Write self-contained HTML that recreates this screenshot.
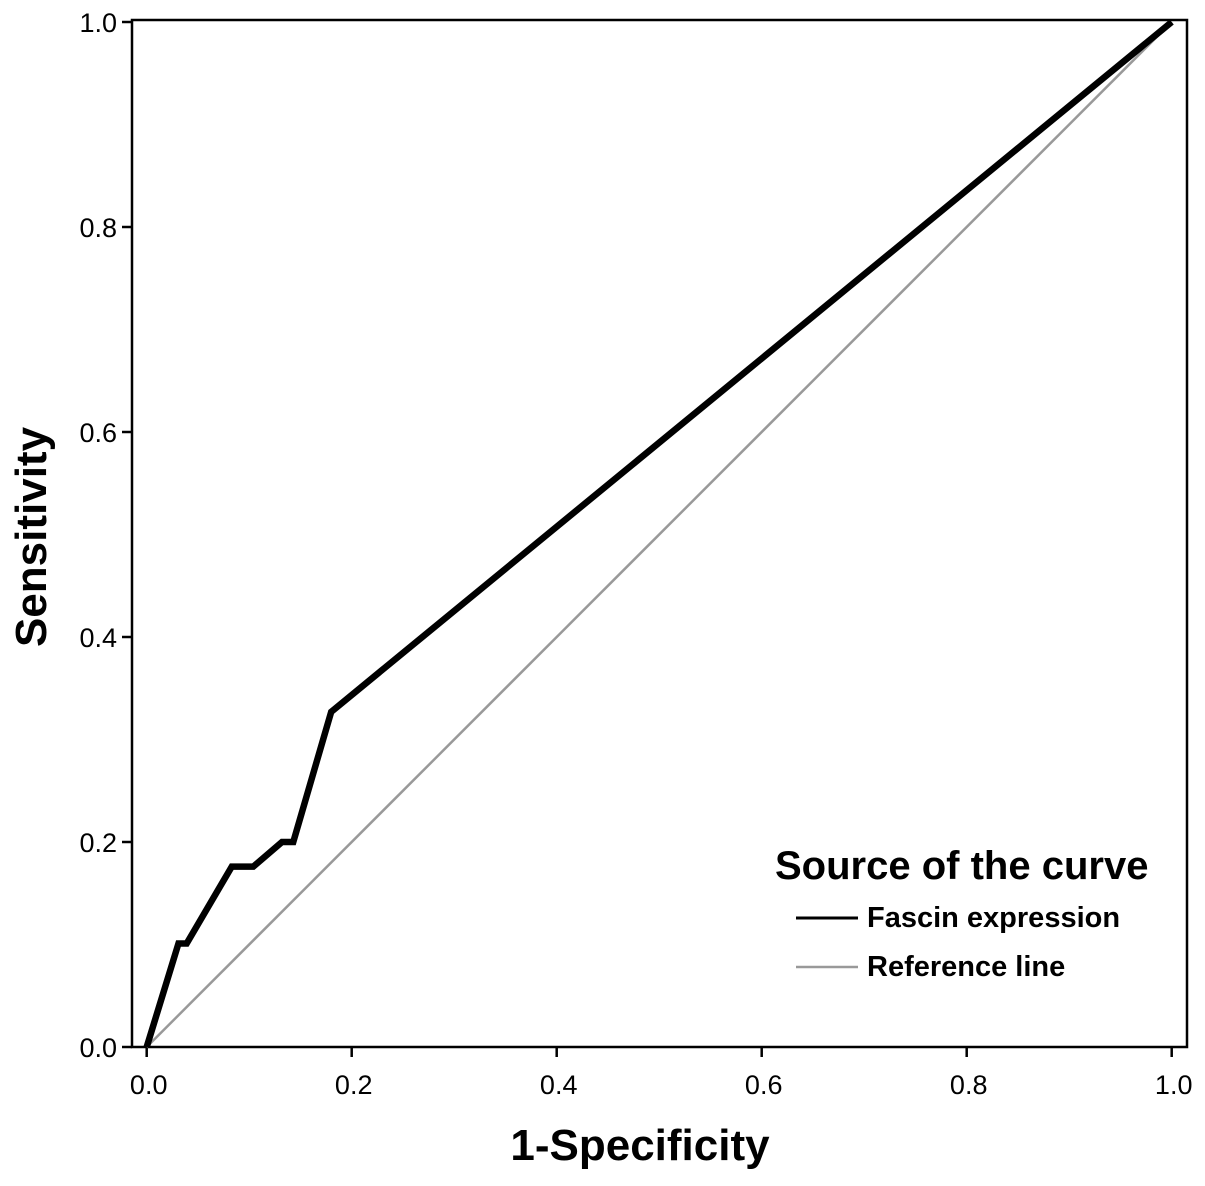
<!DOCTYPE html>
<html><head><meta charset="utf-8"><style>
body{margin:0;background:#fff}
svg text{font-family:"Liberation Sans",Arial,sans-serif}
</style></head><body>
<svg width="1205" height="1181" viewBox="0 0 1205 1181">
<g id="chart"></g>
</svg>
<script>
const fprValues=[0,0.031,0.039,0.083,0.104,0.132,0.143,0.180,1];
const tprValues=[0,0.101,0.101,0.176,0.176,0.200,0.200,0.327,1];
const refX=[0,1];
const refY=[0,1];
const tickValues=[0,0.2,0.4,0.6,0.8,1.0];
const tickLabels=["0.0","0.2","0.4","0.6","0.8","1.0"];
const NS="http://www.w3.org/2000/svg";
const g=document.getElementById('chart');
const sx=v=>146.7+v*1025;
const sy=v=>1047-v*1025;
function el(t,a,txt){const e=document.createElementNS(NS,t);for(const k in a)e.setAttribute(k,a[k]);if(txt!==undefined)e.textContent=txt;g.appendChild(e);return e;}
let e;
e=el('rect',{x:132,y:20,width:1055,height:1027,fill:'none',stroke:'#000','stroke-width':2.5});


tickValues.forEach((v,i)=>{
 e=el('line',{x1:sx(v),x2:sx(v),y1:1047,y2:1057,stroke:'#000','stroke-width':2.5});
 
 
 e=el('text',{x:sx(v)+2,y:1094,'font-size':27,'text-anchor':'middle'},tickLabels[i]);
 
 
 e=el('line',{x1:122,x2:132,y1:sy(v),y2:sy(v),stroke:'#000','stroke-width':2.5});
 
 
 e=el('text',{x:117,y:sy(v)+10,'font-size':27,'text-anchor':'end'},tickLabels[i]);
 
 
});
e=el('polyline',{points:refX.map((x,i)=>sx(x)+','+sy(refY[i])).join(' '),fill:'none',stroke:'#999','stroke-width':2.5});


e=el('polyline',{points:fprValues.map((x,i)=>sx(x)+','+sy(tprValues[i])).join(' '),fill:'none',stroke:'#000','stroke-width':6.5,'stroke-linejoin':'miter'});


e=el('text',{x:640,y:1160,'font-size':44,'font-weight':'bold','text-anchor':'middle'},'1-Specificity');


e=el('text',{x:0,y:0,'font-size':44,'font-weight':'bold','text-anchor':'middle',transform:'translate(46,537) rotate(-90)'},'Sensitivity');


e=el('text',{x:775,y:879,'font-size':40,'font-weight':'bold'},'Source of the curve');


e=el('line',{x1:796,x2:858,y1:918,y2:918,stroke:'#000','stroke-width':3});


e=el('text',{x:867,y:927,'font-size':29,'font-weight':'bold'},'Fascin expression');


e=el('line',{x1:796,x2:858,y1:967,y2:967,stroke:'#999','stroke-width':2.5});


e=el('text',{x:867,y:976,'font-size':29,'font-weight':'bold'},'Reference line');


</script>
</body></html>
